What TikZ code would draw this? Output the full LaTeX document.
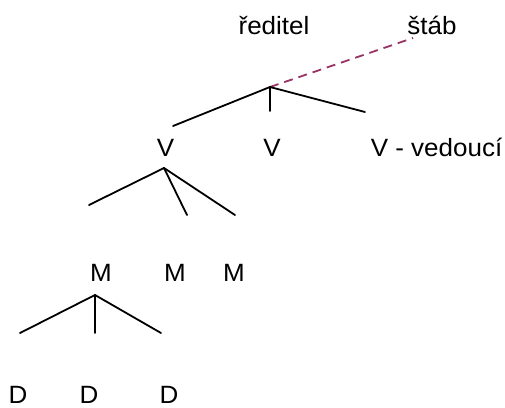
\documentclass[tikz,border=0pt]{standalone}
\usepackage{fontspec}
\setmainfont{Liberation Sans}
\definecolor{staffline}{HTML}{993366}
\begin{document}
\begin{tikzpicture}[x=1pt,y=-1pt,
  lbl/.style={anchor=base,inner sep=0pt,xscale=1.04,
    font=\fontsize{25}{29}\selectfont},
  branch/.style={line width=1.8pt,line cap=round},
  staff/.style={line width=1.8pt,staffline,dash pattern=on 9pt off 6pt}]
\useasboundingbox (0,0) rectangle (505,407);

% level labels
\node[lbl] (dir)   at (274,34) {ředitel};
\node[lbl] (stab)  at (432,34) {štáb};
\node[lbl] (v1)    at (165.5,156) {V};
\node[lbl] (v2)    at (272,156) {V};
\node[lbl] (v3)    at (436.5,156) {V - vedoucí};
\node[lbl] (m1)    at (101,281) {M};
\node[lbl] (m2)    at (175,281) {M};
\node[lbl] (m3)    at (234,281) {M};
\node[lbl] (d1)    at (18,403) {D};
\node[lbl] (d2)    at (89,403) {D};
\node[lbl] (d3)    at (169,403) {D};

% branching points and branch ends
\coordinate (top)  at (270,87);
\coordinate (stabend) at (413,38);
\coordinate (t1) at (173,126);
\coordinate (t2) at (270,111);
\coordinate (t3) at (365,112);
\coordinate (vtop) at (164,168);
\coordinate (u1) at (89,205);
\coordinate (u2) at (187,215);
\coordinate (u3) at (235,215);
\coordinate (mtop) at (95,295);
\coordinate (w1) at (20,333);
\coordinate (w2) at (95,333);
\coordinate (w3) at (161,333);

% staff link
\draw[staff] (top) -- (stabend);

% director branches
\draw[branch] (top) -- (t1);
\draw[branch] (top) -- (t2);
\draw[branch] (top) -- (t3);

% head branches
\draw[branch] (vtop) -- (u1);
\draw[branch] (vtop) -- (u2);
\draw[branch] (vtop) -- (u3);

% manager branches
\draw[branch] (mtop) -- (w1);
\draw[branch] (mtop) -- (w2);
\draw[branch] (mtop) -- (w3);
\end{tikzpicture}
\end{document}
